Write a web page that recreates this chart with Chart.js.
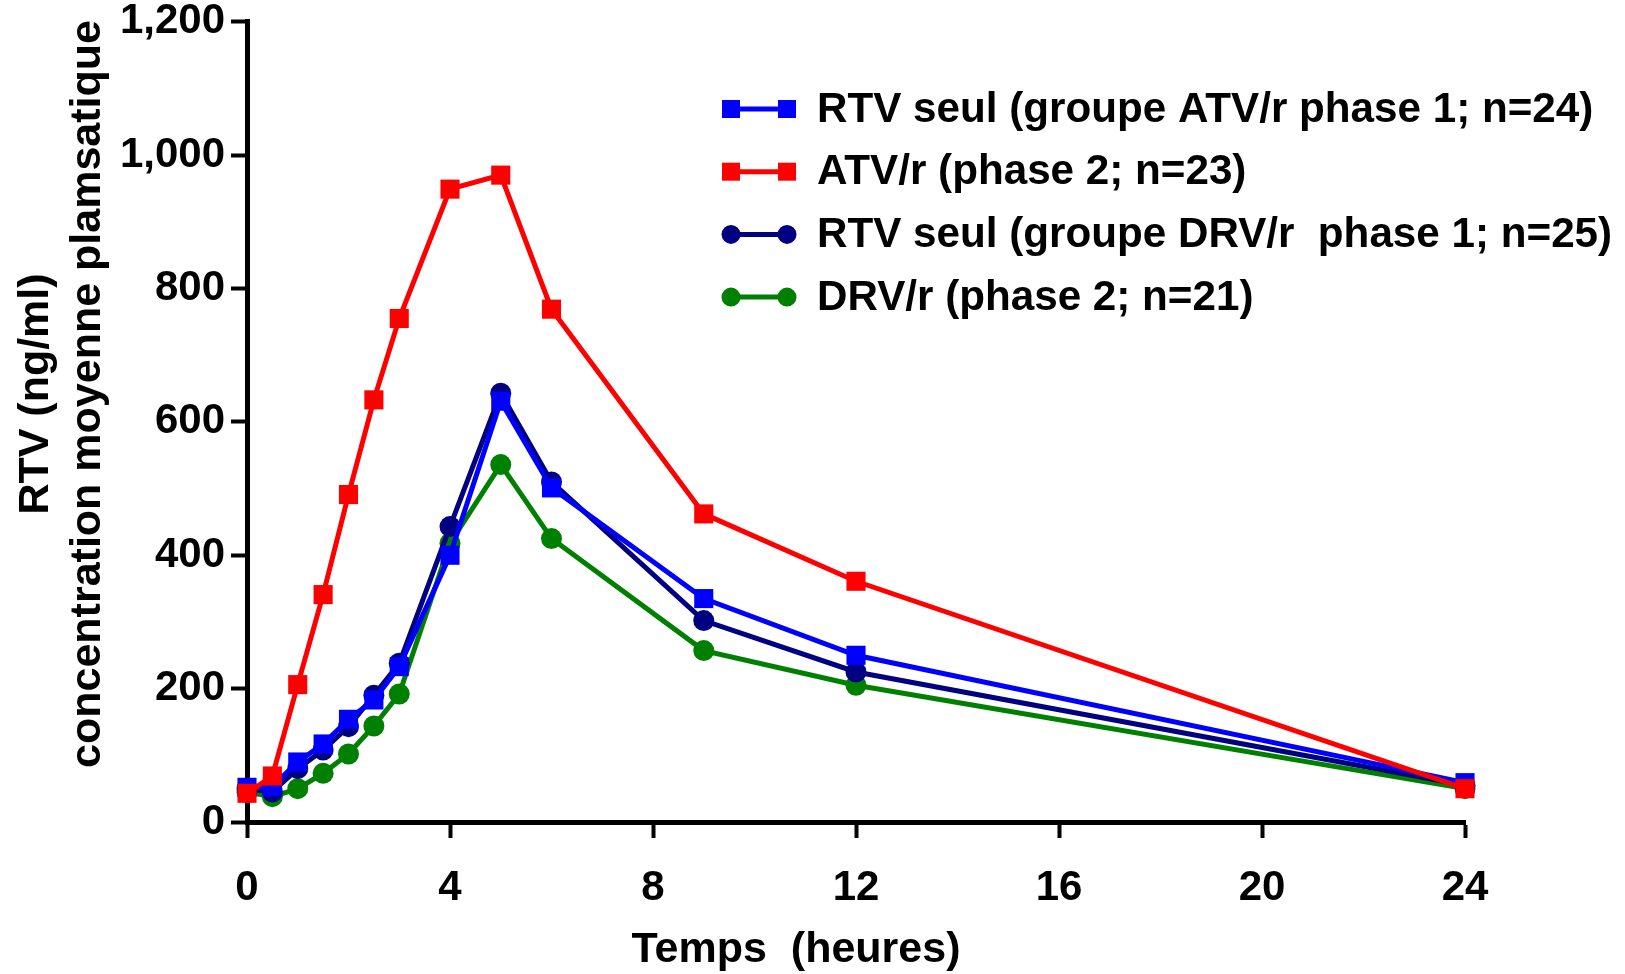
<!DOCTYPE html>
<html>
<head>
<meta charset="utf-8">
<script src="https://cdn.jsdelivr.net/npm/chart.js@4.4.1/dist/chart.umd.min.js"></script>
<style>
  html, body { margin: 0; padding: 0; background: #fff; }
  canvas { display: block; }
</style>
</head>
<body>
<canvas id="chart" width="1625" height="974"></canvas>
<script>
// time points (hours)
const hours = [0, 0.5, 1, 1.5, 2, 2.5, 3, 4, 5, 6, 9, 12, 24];

// mean plasma RTV concentration (ng/ml)
const rtvAtvPhase1 = [52, 53, 90, 117, 154, 183, 233, 400, 631, 501, 335, 250, 59];
const atvPhase2 = [43, 69, 206, 341, 491, 633, 755, 949, 970, 769, 462, 361, 50];
const rtvDrvPhase1 = [50, 45, 80, 108, 143, 190, 238, 443, 643, 510, 302, 225, 55];
const drvPhase2 = [45, 38, 50, 73, 102, 144, 192, 418, 536, 425, 257, 205, 50];

const seriesLabels = [
  'RTV seul (groupe ATV/r phase 1; n=24)',
  'ATV/r (phase 2; n=23)',
  'RTV seul (groupe DRV/r  phase 1; n=25)',
  'DRV/r (phase 2; n=21)'
];

const xTicks = [0, 4, 8, 12, 16, 20, 24];
const yTicks = [0, 200, 400, 600, 800, 1000, 1200];
const xTitle = 'Temps  (heures)';
const yTitle = ['RTV (ng/ml)', 'concentration moyenne plamsatique'];

const FONT = '"Liberation Sans", Arial, sans-serif';

const toPoints = (vals) => hours.map((h, i) => ({ x: h, y: vals[i] }));

const mkSet = (label, vals, color, shape, order) => ({
  label: label,
  data: toPoints(vals),
  borderColor: color,
  backgroundColor: color,
  borderWidth: 5,
  pointStyle: shape,
  pointRadius: shape === 'rect' ? 13.5 : 10.5,
  pointBorderWidth: 0,
  pointBackgroundColor: color,
  tension: 0,
  clip: false,
  order: order
});

const datasets = [
  mkSet(seriesLabels[0], rtvAtvPhase1, '#0000FF', 'rect', 1),
  mkSet(seriesLabels[1], atvPhase2, '#FF0000', 'rect', 0),
  mkSet(seriesLabels[2], rtvDrvPhase1, '#000080', 'circle', 2),
  mkSet(seriesLabels[3], drvPhase2, '#008000', 'circle', 3)
];

// legend: line with a marker at each end, stacked on the right
const sideLegend = {
  id: 'sideLegend',
  afterDraw(chart, args, opts) {
    const ctx = chart.ctx;
    ctx.save();
    chart.data.datasets.forEach((ds, i) => {
      const y = opts.top + i * opts.rowGap;
      ctx.strokeStyle = ds.borderColor;
      ctx.fillStyle = ds.borderColor;
      ctx.lineWidth = 5;
      ctx.beginPath();
      ctx.moveTo(opts.x0, y);
      ctx.lineTo(opts.x1, y);
      ctx.stroke();
      [opts.x0, opts.x1].forEach(px => {
        if (ds.pointStyle === 'rect') {
          ctx.fillRect(px - 9, y - 9, 18, 18);
        } else {
          ctx.beginPath();
          ctx.arc(px, y, 9.5, 0, Math.PI * 2);
          ctx.fill();
        }
      });
      ctx.fillStyle = '#000';
      ctx.font = 'bold 42.2px ' + FONT;
      ctx.textBaseline = 'middle';
      ctx.textAlign = 'left';
      ctx.fillText(ds.label, opts.textX, y + 1);
    });
    ctx.restore();
  }
};

// axis titles drawn by hand, both sit off the middle of their axis
const axisTitles = {
  id: 'axisTitles',
  afterDraw(chart, args, opts) {
    const ctx = chart.ctx;
    ctx.save();
    ctx.fillStyle = '#000';
    ctx.font = 'bold 43px ' + FONT;
    ctx.textAlign = 'center';
    ctx.textBaseline = 'middle';
    ctx.fillText(xTitle, opts.xt[0], opts.xt[1]);
    yTitle.forEach((line, i) => {
      ctx.save();
      ctx.translate(opts.yx[i], opts.yy);
      ctx.rotate(-Math.PI / 2);
      ctx.fillText(line, 0, 0);
      ctx.restore();
    });
    ctx.restore();
  }
};

new Chart(document.getElementById('chart'), {
  type: 'line',
  data: { datasets: datasets },
  plugins: [sideLegend, axisTitles],
  options: {
    responsive: false,
    animation: false,
    layout: { padding: { top: 0, right: 160, left: 0, bottom: 0 } },
    plugins: {
      legend: { display: false },
      tooltip: { enabled: false },
      sideLegend: { x0: 731, x1: 787, textX: 817, top: 109, rowGap: 62.7 },
      axisTitles: { xt: [796, 950], yx: [36, 88], yy: 394 }
    },
    scales: {
      x: {
        type: 'linear',
        min: 0,
        max: 24,
        afterBuildTicks: (s) => { s.ticks = xTicks.map(v => ({ value: v })); },
        afterFit: (s) => { s.height = 152; },
        border: { display: true, color: '#000', width: 5 },
        grid: { drawOnChartArea: false, drawTicks: true, tickLength: 16, tickWidth: 4, tickColor: '#000' },
        ticks: { color: '#000', padding: 25, maxRotation: 0, font: { family: FONT, size: 42, weight: 'bold' } },
        title: { display: false }
      },
      y: {
        type: 'linear',
        min: 0,
        max: 1200,
        afterBuildTicks: (s) => { s.ticks = yTicks.map(v => ({ value: v })); },
        afterFit: (s) => { s.width = 247; },
        border: { display: true, color: '#000', width: 5 },
        grid: { drawOnChartArea: false, drawTicks: true, tickLength: 16, tickWidth: 4, tickColor: '#000' },
        ticks: {
          color: '#000',
          padding: 6,
          font: { family: FONT, size: 42, weight: 'bold', lineHeight: 0.75 },
          callback: (v) => v.toLocaleString('en-US')
        },
        title: { display: false }
      }
    }
  }
});
</script>
</body>
</html>
